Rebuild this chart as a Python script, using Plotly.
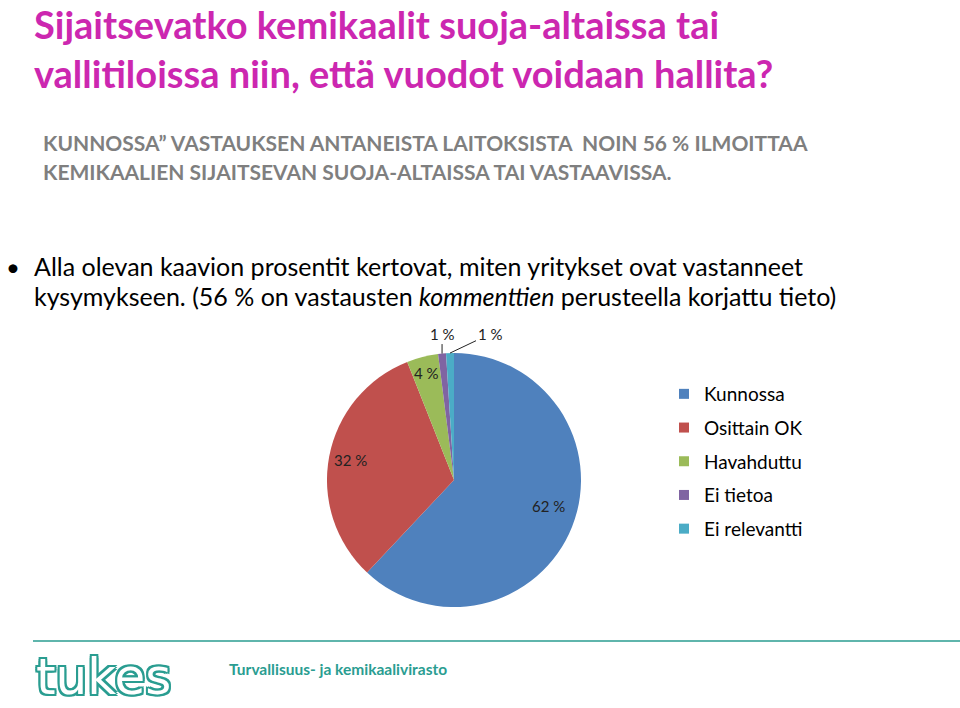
import math
import plotly.graph_objects as go

# ---- data ----
categories = ["Kunnossa", "Osittain OK", "Havahduttu", "Ei tietoa", "Ei relevantti"]
values = [62, 32, 4, 1, 1]
value_labels = ["62 %", "32 %", "4 %", "1 %", "1 %"]
colors = ["#4F81BD", "#C0504D", "#9BBB59", "#8064A2", "#4BACC6"]

title_lines = ["Sijaitsevatko kemikaalit suoja-altaissa tai",
               "vallitiloissa niin, että vuodot voidaan hallita?"]
sub_lines = ["KUNNOSSA\u201d VASTAUKSEN ANTANEISTA LAITOKSISTA  NOIN 56 % ILMOITTAA",
             "KEMIKAALIEN SIJAITSEVAN SUOJA-ALTAISSA TAI VASTAAVISSA."]
bullet_lines = ["Alla olevan kaavion prosentit kertovat, miten yritykset ovat vastanneet",
                "kysymykseen. (56 % on vastausten <i>kommenttien</i> perusteella korjattu tieto)"]
footer_text = "Turvallisuus- ja kemikaalivirasto"
logo_text = "tukes"

# ---- geometry / style ----
W, H = 960, 708
CX, CY, R = 454 / W, (H - 480) / H, 127
FONT = "Lato"
TEAL = "#2A9D91"

fig = go.Figure()
fig.add_trace(go.Pie(
    labels=categories, values=values, sort=False, direction="clockwise",
    rotation=0, textinfo="none", hoverinfo="label+percent",
    marker=dict(colors=colors, line=dict(width=0)),
    domain=dict(x=[CX - R / W, CX + R / W], y=[CY - R / H, CY + R / H]),
    showlegend=False,
))

# legend entries (one group each, so vertical gaps can be set)
for cat, col in zip(categories, colors):
    fig.add_trace(go.Scatter(
        x=[None], y=[None], mode="markers", name=cat, legendgroup=cat,
        marker=dict(symbol="square", size=10, color=col), hoverinfo="skip",
    ))

annotations = []
# slice value labels
inside_r = [0.80, 0.83, 0.87]
outside_off = [(0, -20), (40, -19)]
total = sum(values)
cum = 0
for i, (v, lab) in enumerate(zip(values, value_labels)):
    mid = math.radians((cum + v / 2) / total * 360)
    cum += v
    if i < len(inside_r):
        rr = inside_r[i] * R
        annotations.append(dict(
            x=CX + rr * math.sin(mid) / W, y=CY + rr * math.cos(mid) / H,
            xref="paper", yref="paper", text=lab, showarrow=False,
            font=dict(family=FONT, size=15, color="#222222")))
    else:
        ax, ay = outside_off[i - len(inside_r)]
        annotations.append(dict(
            x=CX + R * math.sin(mid) / W, y=CY + R * math.cos(mid) / H,
            xref="paper", yref="paper", text=lab, showarrow=True,
            ax=ax, ay=ay, arrowhead=0, arrowwidth=1, arrowcolor="#222222",
            standoff=0, startstandoff=0,
            font=dict(family=FONT, size=15, color="#222222")))

# title (two lines in one text block)
annotations.append(dict(x=33 / W, y=1, xref="paper", yref="paper",
                        xanchor="left", yanchor="top", align="left", borderpad=0,
                        text="<br>".join("<b>" + t + "</b>" for t in title_lines),
                        showarrow=False,
                        font=dict(family=FONT, size=38, color="#CC27B0")))
# subtitle
for t, yy in zip(sub_lines, [142, 171]):
    annotations.append(dict(x=41 / W, y=1 - yy / H, xref="paper", yref="paper",
                            xanchor="left", yanchor="middle", text="<b>" + t + "</b>",
                            showarrow=False,
                            font=dict(family=FONT, size=21, color="#7F7F7F")))
# bullet
annotations.append(dict(x=4 / W, y=1 - 266 / H, xref="paper", yref="paper",
                        xanchor="left", yanchor="middle", text="\u2022",
                        showarrow=False, font=dict(family=FONT, size=24, color="#000000")))
for t, yy in zip(bullet_lines, [266, 296]):
    annotations.append(dict(x=32 / W, y=1 - yy / H, xref="paper", yref="paper",
                            xanchor="left", yanchor="middle", text=t,
                            showarrow=False,
                            font=dict(family=FONT, size=25, color="#000000")))
# footer
annotations.append(dict(x=227 / W, y=1 - 669 / H, xref="paper", yref="paper",
                        xanchor="left", yanchor="middle", text="<b>" + footer_text + "</b>",
                        showarrow=False, font=dict(family=FONT, size=15.5, color=TEAL)))
outline = ", ".join(f"{dx}px {dy}px 0 {TEAL}" for dx, dy in
                    [(2, 0), (-2, 0), (0, 2), (0, -2), (2, 2), (-2, -2), (2, -2), (-2, 2)])
annotations.append(dict(x=31 / W, y=1 - 677 / H, xref="paper", yref="paper",
                        xanchor="left", yanchor="middle", text=logo_text,
                        showarrow=False, borderpad=4,
                        font=dict(family="DejaVu Sans", size=50, color="#FFFFFF",
                                  shadow=outline)))

fig.update_layout(
    width=W, height=H, margin=dict(l=0, r=0, t=0, b=0),
    paper_bgcolor="white", plot_bgcolor="white",
    xaxis=dict(visible=False), yaxis=dict(visible=False),
    showlegend=True,
    legend=dict(x=664 / W, y=1 - 375 / H, xanchor="left", yanchor="top",
                font=dict(family=FONT, size=19, color="#000000"),
                tracegroupgap=6, bgcolor="rgba(0,0,0,0)"),
    annotations=annotations,
    shapes=[dict(type="line", xref="paper", yref="paper",
                 x0=33 / W, x1=1, y0=1 - 641 / H, y1=1 - 641 / H,
                 line=dict(color=TEAL, width=1.5))],
)

fig.write_html("out.html", config={"displayModeBar": False},
               post_script="document.body.style.margin='0px';document.body.style.overflow='hidden';")
